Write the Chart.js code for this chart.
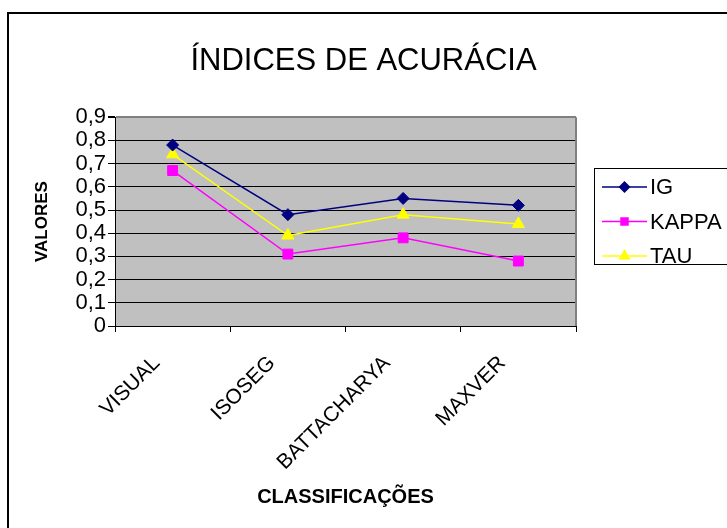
<!DOCTYPE html>
<html>
<head>
<meta charset="utf-8">
<script src="https://cdn.jsdelivr.net/npm/chart.js@4/dist/chart.umd.min.js"></script>
<style>
  body { margin: 0; background: #fff; }
  canvas { display: block; }
</style>
</head>
<body>
<canvas id="myChart" width="727" height="528"></canvas>
<script>
var categories = ["VISUAL", "ISOSEG", "BATTACHARYA", "MAXVER"];
var igValues = [0.78, 0.48, 0.55, 0.52];
var kappaValues = [0.67, 0.31, 0.38, 0.28];
var tauValues = [0.74, 0.39, 0.48, 0.44];
var yTicks = [0, 0.1, 0.2, 0.3, 0.4, 0.5, 0.6, 0.7, 0.8, 0.9];

Chart.defaults.font.family = "'Liberation Sans', Arial, sans-serif";
Chart.defaults.color = "#000";

// marker for the legend box
function marker(ctx, style, x, y, r) {
    ctx.beginPath();
    if (style === 'rectRot') {
        ctx.moveTo(x - r, y); ctx.lineTo(x, y - r); ctx.lineTo(x + r, y); ctx.lineTo(x, y + r);
    } else if (style === 'rect') {
        var s = r * Math.SQRT1_2;
        ctx.rect(x - s, y - s, 2 * s, 2 * s);
    } else {
        ctx.moveTo(x, y - r); ctx.lineTo(x + r * 0.866, y + r / 2); ctx.lineTo(x - r * 0.866, y + r / 2);
    }
    ctx.closePath();
    ctx.fill();
}

var framePlugin = {
    id: 'frame',
    beforeDraw: function (chart) {
        var c = chart.ctx, a = chart.chartArea;
        c.save();
        c.fillStyle = '#fff';
        c.fillRect(0, 0, chart.width, chart.height);
        c.strokeStyle = '#000';
        c.lineWidth = 2;
        c.beginPath();
        c.moveTo(8, chart.height + 2); c.lineTo(8, 13); c.lineTo(chart.width + 2, 13);
        c.stroke();
        c.fillStyle = '#C0C0C0';
        c.fillRect(a.left, a.top, a.right - a.left, a.bottom - a.top);
        c.restore();
    },
    beforeDatasetsDraw: function (chart) {
        var c = chart.ctx, a = chart.chartArea;
        c.save();
        c.strokeStyle = '#808080';
        c.lineWidth = 2;
        c.beginPath();
        c.moveTo(a.right, a.top); c.lineTo(a.right, a.bottom);
        c.stroke();
        c.restore();
    },
    afterDraw: function (chart) {
        var c = chart.ctx;
        c.save();
        c.fillStyle = '#fff';
        c.fillRect(594, 168, 140, 96);
        c.strokeStyle = '#000';
        c.lineWidth = 1;
        c.strokeRect(594.5, 168.5, 140, 96);
        c.font = "22px 'Liberation Sans', Arial, sans-serif";
        c.textBaseline = 'middle';
        chart.data.datasets.forEach(function (ds, i) {
            var y = 187 + i * 34.5;
            c.strokeStyle = ds.borderColor;
            c.lineWidth = 1.5;
            c.beginPath();
            c.moveTo(602, y); c.lineTo(647, y);
            c.stroke();
            c.fillStyle = ds.borderColor;
            marker(c, ds.pointStyle, 624.5, y, ds.pointStyle === 'triangle' ? 7 : 6);
            c.fillStyle = '#000';
            c.fillText(ds.label, 650, y + 1);
        });
        c.restore();
    }
};

var ctx = document.getElementById('myChart');

var myChart = new Chart(ctx, {
    type: 'line',
    data: {
        labels: categories,
        datasets: [{
            label: "IG",
            data: igValues,
            borderColor: "#000080",
            backgroundColor: "#000080",
            pointStyle: 'rectRot',
            pointRadius: 6
        }, {
            label: "KAPPA",
            data: kappaValues,
            borderColor: "#FF00FF",
            backgroundColor: "#FF00FF",
            pointStyle: 'rect',
            pointRadius: 7
        }, {
            label: "TAU",
            data: tauValues,
            borderColor: "#FFFF00",
            backgroundColor: "#FFFF00",
            pointStyle: 'triangle',
            pointRadius: 7
        }]
    },
    options: {
        responsive: false,
        animation: false,
        devicePixelRatio: 1,
        elements: {
            line: { borderWidth: 1.5, tension: 0 },
            point: { borderWidth: 1, hoverRadius: 6 }
        },
        layout: { padding: 0 },
        plugins: {
            legend: { display: false },
            tooltip: { enabled: false },
            title: {
                display: true,
                text: "ÍNDICES DE ACURÁCIA",
                color: '#000',
                font: { size: 31, weight: 'normal' },
                padding: { top: 43, bottom: 37 }
            }
        },
        scales: {
            x: {
                offset: true,
                afterFit: function (scale) { scale.height = 202; },
                grid: {
                    offset: true,
                    drawOnChartArea: false,
                    tickLength: 6,
                    color: '#000',
                    tickColor: '#000'
                },
                border: { color: '#000', width: 1 },
                ticks: {
                    autoSkip: false,
                    maxRotation: 45,
                    minRotation: 45,
                    labelOffset: -16,
                    padding: 19,
                    font: { size: 21 }
                },
                title: {
                    display: true,
                    text: "CLASSIFICAÇÕES",
                    font: { size: 20, weight: 'bold' },
                    padding: { top: 0, bottom: 19 }
                }
            },
            y: {
                min: 0,
                max: 0.9,
                afterFit: function (scale) { scale.width = 115; },
                afterBuildTicks: function (scale) {
                    scale.ticks = yTicks.map(function (v) { return { value: v }; });
                },
                grid: {
                    color: function (c) { return c.tick && c.tick.value >= 0.89 ? '#808080' : '#000'; },
                    lineWidth: function (c) { return c.tick && c.tick.value >= 0.89 ? 2 : 1; },
                    tickColor: '#000',
                    tickLength: 7
                },
                border: { color: '#000', width: 1 },
                ticks: {
                    autoSkip: false,
                    padding: 2,
                    font: { size: 22 },
                    callback: function (v) { return v === 0 ? '0' : Number(v).toFixed(1).replace('.', ','); }
                },
                title: {
                    display: true,
                    text: "VALORES",
                    font: { size: 17, weight: 'bold' },
                    padding: { top: 32, bottom: 0 }
                }
            },
            // empty axis that keeps room for the legend on the right
            legendSpace: {
                type: 'linear',
                position: 'right',
                display: true,
                afterFit: function (scale) { scale.width = 151; },
                grid: { display: false, drawOnChartArea: false },
                border: { display: false },
                ticks: { display: false }
            }
        }
    },
    plugins: [framePlugin]
});
</script>
</body>
</html>
